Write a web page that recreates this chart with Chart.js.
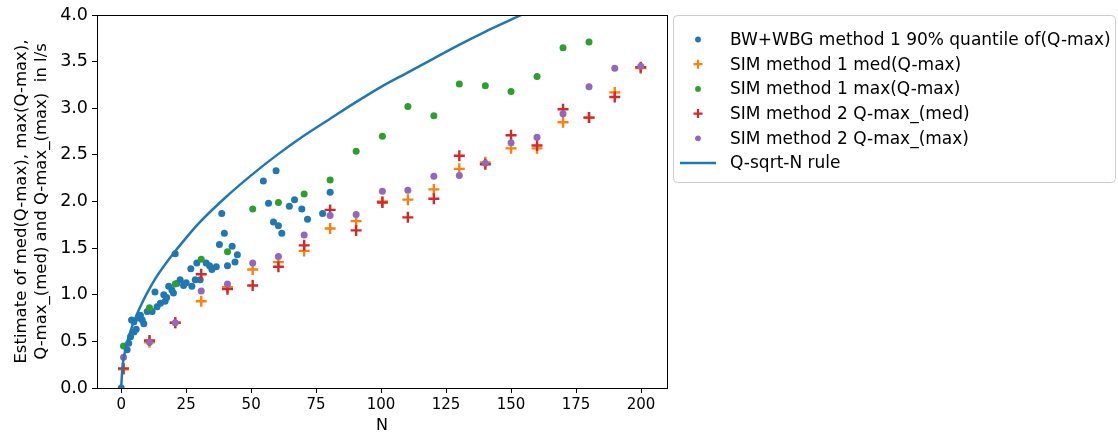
<!DOCTYPE html>
<html>
<head>
<meta charset="utf-8">
<script src="https://cdn.jsdelivr.net/npm/chart.js@4.4.1/dist/chart.umd.min.js"></script>
<style>
  html, body { margin: 0; padding: 0; background: #fff; }
  #wrap { width: 1118px; height: 441px; }
</style>
</head>
<body>
<div id="wrap"><canvas id="qChart" width="1118" height="441"></canvas></div>
<script>
// BW+WBG method 1, 90% quantile of Q-max
const bwN = [0, 2.3, 2.9, 3.6, 4.9, 5.8, 4.0, 4.9, 6.8, 7.4, 8.1, 8.7, 10.0, 11.9, 13.0, 13.8, 15.1, 16.4, 16.9, 17.5,
             18.3, 19.5, 20.1, 20.8, 21.4, 22.7, 24.0, 25.0, 26.8, 27.2, 28.5, 29.1, 30.4, 32.7, 34.0, 34.9, 36.6,
             37.8, 38.7, 39.7, 40.9, 42.7, 43.8, 44.7, 54.7, 56.7, 58.6, 59.6, 60.5, 61.8, 64.7, 66.7, 69.5, 71.7,
             77.5, 80.4];
const bwQ = [0, 0.41, 0.48, 0.55, 0.60, 0.63, 0.73, 0.71, 0.75, 0.78, 0.73, 0.69, 0.82, 0.82, 1.03, 0.87, 0.91, 1.00, 0.93, 0.97,
             1.09, 1.05, 1.02, 1.44, 1.12, 1.16, 1.10, 1.13, 1.28, 1.09, 1.16, 1.34, 1.16, 1.34, 1.31, 1.27, 1.30,
             1.54, 1.87, 1.66, 1.31, 1.52, 1.35, 1.43, 2.22, 1.98, 1.78, 2.33, 1.74, 1.66, 1.95, 2.02, 1.92, 1.81,
             1.87, 2.10];

// SIM runs
const simN = [0.9, 10.9, 20.8, 30.8, 40.9, 50.6, 60.5, 70.4, 80.4, 90.4, 100.5, 110.3, 120.3, 130.1, 140.1,
              150, 160, 170, 180, 189.9, 199.9];
const sim1Med = [0.20, 0.49, 0.70, 0.93, 1.08, 1.27, 1.35, 1.47, 1.71, 1.79, 2.00, 2.02, 2.13, 2.35, 2.42,
                 2.57, 2.57, 2.85, 2.90, 3.17, 3.43];
const sim1Max = [0.45, 0.86, 1.115, 1.38, 1.46, 1.92, 1.99, 2.08, 2.23, 2.54, 2.70, 3.02, 2.92, 3.26, 3.24,
                 3.18, 3.34, 3.65, 3.71];
const sim2Med = [0.21, 0.51, 0.70, 1.22, 1.06, 1.10, 1.30, 1.53, 1.91, 1.69, 1.99, 1.83, 2.03, 2.49, 2.40,
                 2.71, 2.60, 2.99, 2.90, 3.12, 3.44];
const sim2Max = [0.33, 0.49, 0.70, 1.04, 1.115, 1.34, 1.41, 1.64, 1.85, 1.86, 2.11, 2.12, 2.27, 2.28, 2.41,
                 2.63, 2.69, 2.94, 3.23, 3.43, 3.45];

// Q-sqrt-N rule curve
const ruleN = [0, 0.5, 1, 2, 3, 5, 7, 10, 14, 20, 25, 30, 40, 50, 60, 70, 80, 90, 100, 110, 120, 130, 140, 150, 160];
const ruleQ = [0, 0.23, 0.32, 0.46, 0.56, 0.72, 0.85, 1.02, 1.21, 1.44, 1.61, 1.77, 2.04, 2.28, 2.50, 2.70, 2.88,
               3.06, 3.23, 3.38, 3.53, 3.68, 3.82, 3.95, 4.08];

const xTicks = [0, 25, 50, 75, 100, 125, 150, 175, 200];
const yTicks = [0, 0.5, 1, 1.5, 2, 2.5, 3, 3.5, 4];

const seriesNames = [
  'BW+WBG method 1 90% quantile of(Q-max)',
  'SIM method 1 med(Q-max)',
  'SIM method 1 max(Q-max)',
  'SIM method 2 Q-max_(med)',
  'SIM method 2 Q-max_(max)',
  'Q-sqrt-N rule'
];
const colors = ['#1f77b4', '#ff7f0e', '#2ca02c', '#d62728', '#9467bd', '#1f77b4'];

const FONT = 'DejaVu Sans';

function pts(xs, ys) {
  return ys.map((y, i) => ({ x: xs[i], y: y }));
}

function dotSet(i, xs, ys, order) {
  return {
    label: seriesNames[i], data: pts(xs, ys), showLine: false, order: order,
    pointStyle: 'circle', pointRadius: 3.5, pointBorderWidth: 0,
    backgroundColor: colors[i], borderColor: colors[i]
  };
}
function crossSet(i, xs, ys, order) {
  return {
    label: seriesNames[i], data: pts(xs, ys), showLine: false, order: order,
    pointStyle: 'cross', pointRadius: 5.5, pointBorderWidth: 2.4,
    backgroundColor: colors[i], borderColor: colors[i]
  };
}

// frame around the plot area plus the boxed legend on the right
const framePlugin = {
  id: 'frameLegend',
  afterDraw(chart) {
    const ctx = chart.ctx;
    const a = chart.chartArea;
    ctx.save();
    ctx.strokeStyle = '#000';
    ctx.lineWidth = 1;
    ctx.strokeRect(Math.round(a.left) + 0.5, Math.round(a.top) + 0.5,
                   Math.round(a.right - a.left), Math.round(a.bottom - a.top));

    // legend box
    ctx.strokeStyle = '#cccccc';
    ctx.beginPath();
    ctx.roundRect(673.5, 15.5, 442, 167, 4);
    ctx.stroke();

    const x0 = 698, tx = 730, y0 = 39.5, dy = 24.7;
    ctx.font = '17px "' + FONT + '"';
    ctx.textBaseline = 'middle';
    seriesNames.forEach((name, i) => {
      const y = y0 + i * dy;
      ctx.fillStyle = colors[i];
      ctx.strokeStyle = colors[i];
      if (i === 1 || i === 3) {
        ctx.lineWidth = 2.2;
        ctx.beginPath();
        ctx.moveTo(x0 - 4.5, y); ctx.lineTo(x0 + 4.5, y);
        ctx.moveTo(x0, y - 4.5); ctx.lineTo(x0, y + 4.5);
        ctx.stroke();
      } else if (i === 5) {
        ctx.lineWidth = 2.4;
        ctx.beginPath();
        ctx.moveTo(680, y); ctx.lineTo(716, y);
        ctx.stroke();
      } else {
        ctx.beginPath();
        ctx.arc(x0, y, 2.9, 0, Math.PI * 2);
        ctx.fill();
      }
      ctx.fillStyle = '#000';
      ctx.fillText(name, tx, y + 1);
    });
    ctx.restore();
  }
};

new Chart(document.getElementById('qChart'), {
  type: 'scatter',
  data: {
    datasets: [
      dotSet(0, bwN, bwQ, 6),
      crossSet(1, simN, sim1Med, 5),
      dotSet(2, simN, sim1Max, 4),
      crossSet(3, simN, sim2Med, 3),
      dotSet(4, simN, sim2Max, 2),
      {
        label: seriesNames[5], data: pts(ruleN, ruleQ), showLine: true, order: 1,
        borderColor: colors[5], borderWidth: 2.5, pointRadius: 0,
        cubicInterpolationMode: 'monotone', fill: false
      }
    ]
  },
  options: {
    responsive: false,
    animation: false,
    devicePixelRatio: 1,
    layout: { padding: { left: 0, top: 15, right: 451, bottom: 6 } },
    plugins: {
      legend: { display: false },
      tooltip: { enabled: false }
    },
    scales: {
      x: {
        type: 'linear', min: -9.3, max: 210,
        afterBuildTicks: s => { s.ticks = xTicks.map(v => ({ value: v })); },
        afterFit: s => { s.height = 47; },
        grid: { drawOnChartArea: false, drawTicks: true, tickLength: 5, color: '#000' },
        border: { display: true, color: '#000', width: 1 },
        ticks: { color: '#000', font: { family: FONT, size: 15 }, padding: 3, maxRotation: 0 },
        title: { display: true, text: 'N', color: '#000', font: { family: FONT, size: 16 }, padding: { top: 0, bottom: 0 } }
      },
      y: {
        type: 'linear', min: 0, max: 4,
        afterBuildTicks: s => { s.ticks = yTicks.map(v => ({ value: v })); },
        afterFit: s => { s.width = 97; },
        grid: { drawOnChartArea: false, drawTicks: true, tickLength: 5, color: '#000' },
        border: { display: true, color: '#000', width: 1 },
        ticks: { color: '#000', font: { family: FONT, size: 17.5 }, padding: 4, callback: v => v.toFixed(1) },
        title: {
          display: true, color: '#000', font: { family: FONT, size: 16.5, lineHeight: 1.2 },
          text: ['Estimate of med(Q-max), max(Q-max),', 'Q-max_(med) and Q-max_(max)  in l/s'],
          padding: { top: 12, bottom: 0 }
        }
      }
    }
  },
  plugins: [framePlugin]
});
</script>
</body>
</html>
